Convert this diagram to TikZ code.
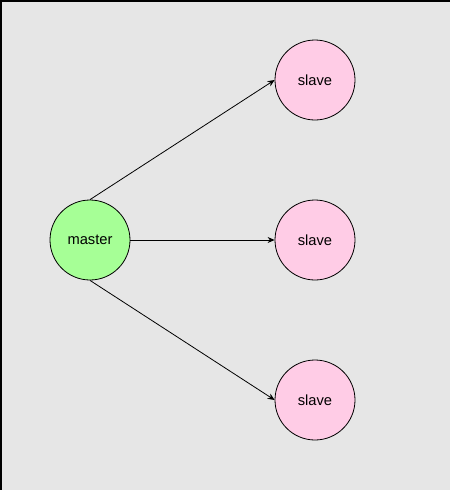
\documentclass[tikz,border=0pt]{standalone}
\usepackage{fontspec}
\setmainfont{Liberation Sans}
\usetikzlibrary{arrows.meta}
\definecolor{bg}{HTML}{E6E6E6}
\definecolor{mgreen}{HTML}{A6FF96}
\definecolor{spink}{HTML}{FFCCE6}
\begin{document}
\begin{tikzpicture}[x=1pt,y=-1pt,
  nodebox/.style={circle,draw=black,line width=0.8pt,minimum size=80pt,inner sep=0pt,font=\fontsize{14.7}{17}\selectfont},
  conn/.style={line width=0.8pt,-{Stealth[length=7pt,width=6pt]}}]
\useasboundingbox (0,0) rectangle (450,490);
\fill[bg] (0,0) rectangle (450,490);
\draw[line width=1.5pt] (0.75,490) -- (0.75,0.75) -- (450,0.75);
\node[nodebox,fill=mgreen] (m) at (90,240) {master};
\node[nodebox,fill=spink] (s1) at (315,80) {slave};
\node[nodebox,fill=spink] (s2) at (315,240) {slave};
\node[nodebox,fill=spink] (s3) at (315,400) {slave};
\draw[conn] (m.north) -- (s1.west);
\draw[conn] (m.east) -- (s2.west);
\draw[conn] (m.south) -- (s3.west);
\end{tikzpicture}
\end{document}
